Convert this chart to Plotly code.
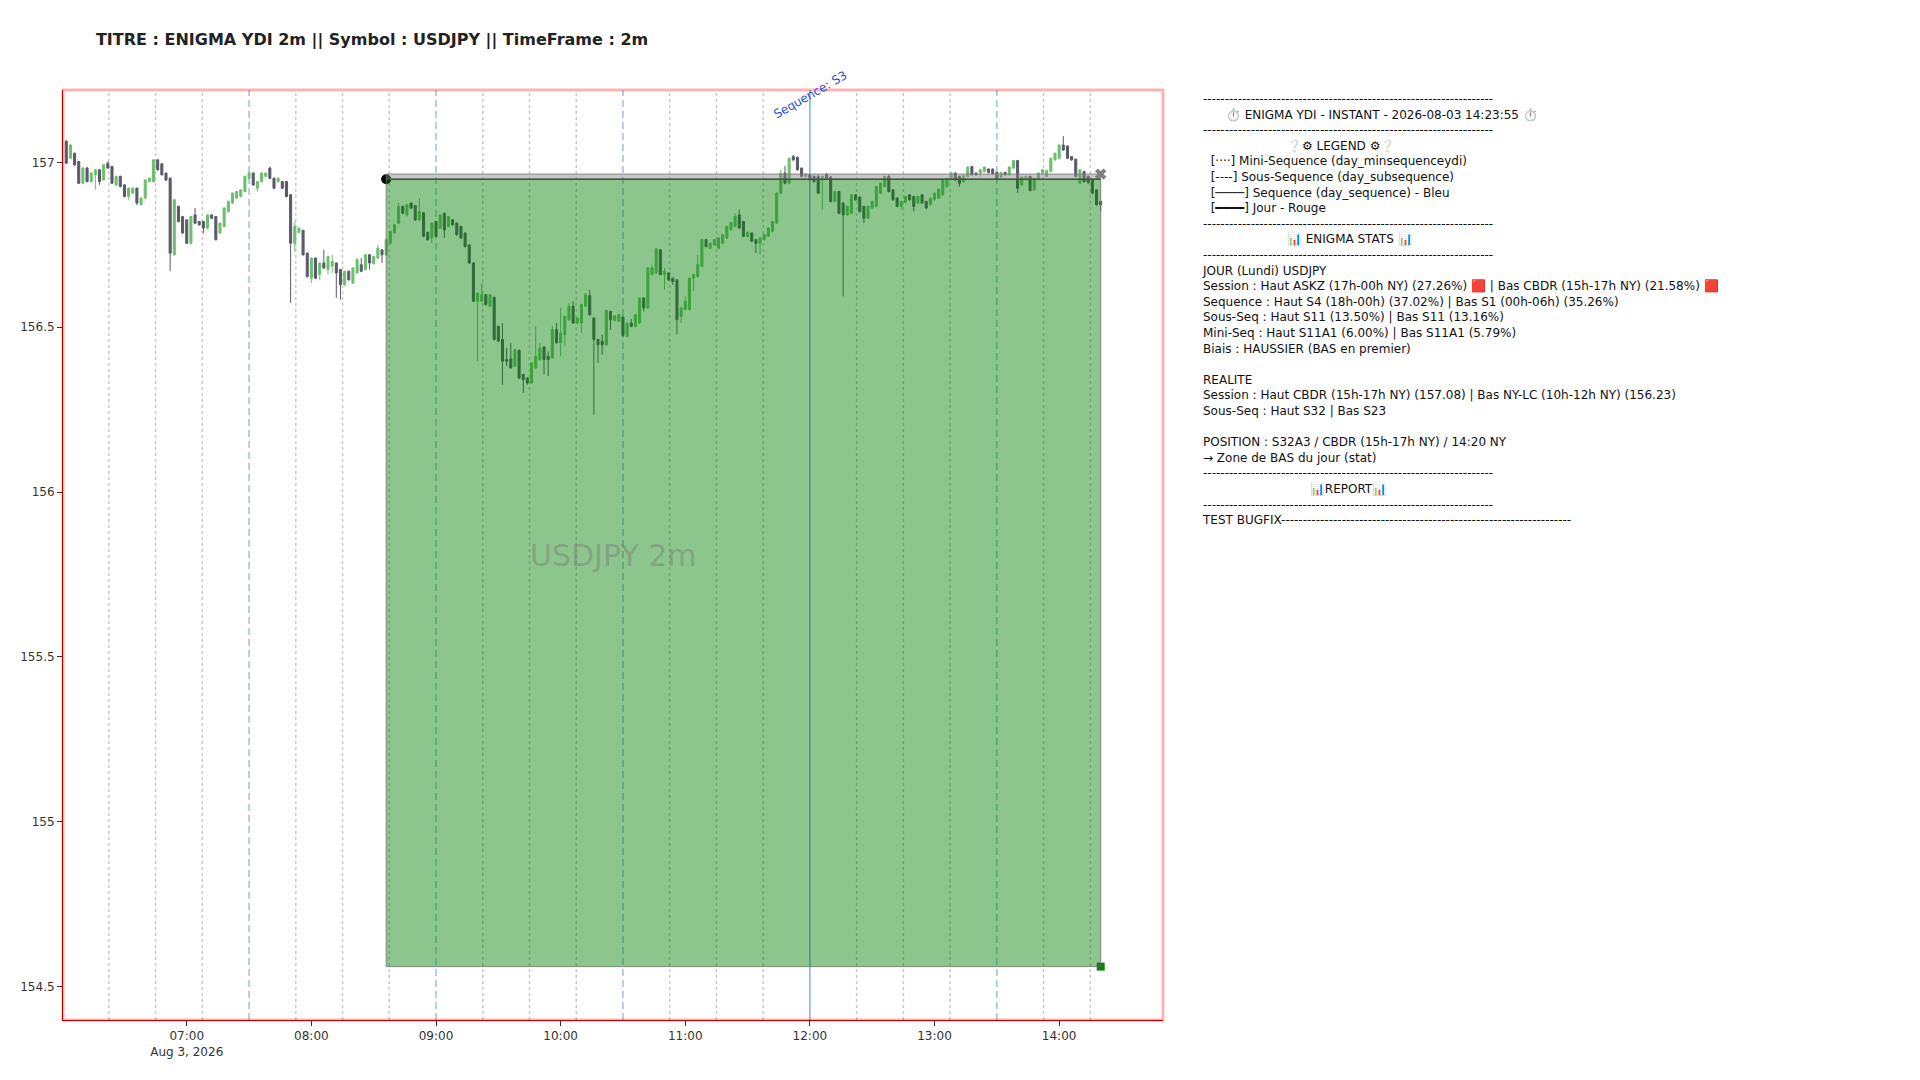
import pandas as pd
import plotly.graph_objects as go

# 2m candles, USDJPY, 06:02 -> 14:20
times = pd.date_range("2026-08-03 06:02", periods=250, freq="2min")

opens = [
    157.064, 157.013, 157.028, 157.003, 156.937, 156.983, 156.942, 156.963, 156.978, 156.947,
    156.998, 156.988, 156.932, 156.958, 156.932, 156.897, 156.907, 156.922, 156.872, 156.892,
    156.942, 156.942, 157.008, 156.996, 156.968, 156.952, 156.720, 156.867, 156.836, 156.826,
    156.755, 156.841, 156.821, 156.821, 156.801, 156.841, 156.836, 156.786, 156.806, 156.851,
    156.877, 156.892, 156.897, 156.912, 156.952, 156.968, 156.922, 156.942, 156.958, 156.983, 156.952,
    156.942, 156.942, 156.942, 156.902, 156.755, 156.788, 156.794, 156.725, 156.649,
    156.710, 156.660, 156.695, 156.675, 156.685, 156.695, 156.675, 156.629, 156.670, 156.634,
    156.665, 156.690, 156.675, 156.720, 156.693, 156.710, 156.735, 156.720, 156.755, 156.786,
    156.816, 156.867, 156.841, 156.877, 156.869, 156.826, 156.848, 156.788, 156.771, 156.821,
    156.801, 156.846, 156.806, 156.826, 156.816, 156.806, 156.786, 156.750, 156.695, 156.579,
    156.579, 156.599, 156.564,
    156.591, 156.503, 156.463, 156.402, 156.404, 156.382, 156.430,
    156.357, 156.346, 156.331, 156.377, 156.402, 156.440, 156.412, 156.407, 156.493, 156.453,
    156.478, 156.523, 156.564, 156.513, 156.513, 156.564, 156.596, 156.528, 156.463, 156.458,
    156.447, 156.548, 156.521, 156.518, 156.531, 156.473, 156.513, 156.503, 156.513, 156.589,
    156.559, 156.660, 156.665, 156.735, 156.660, 156.665, 156.649, 156.644, 156.533, 156.554,
    156.554, 156.649, 156.654, 156.685, 156.766,
    156.740, 156.750, 156.740, 156.755, 156.771,
    156.796, 156.806, 156.841, 156.821, 156.776, 156.786, 156.766, 156.755, 156.766, 156.776,
    156.791, 156.816, 156.907, 156.968, 156.937, 157.018, 157.016, 156.983, 156.958, 156.963,
    156.958, 156.958, 156.947, 156.963, 156.956, 156.882, 156.912, 156.877, 156.841, 156.846,
    156.902, 156.895, 156.867, 156.831, 156.862, 156.867, 156.907, 156.927, 156.958, 156.917,
    156.892, 156.867, 156.879, 156.902, 156.897,
    156.877, 156.902, 156.882, 156.872, 156.887,
    156.892, 156.902, 156.927, 156.949, 156.968, 156.958, 156.942, 156.958, 156.988, 156.968,
    156.968, 156.973, 156.980, 156.980, 156.970, 156.956, 156.970, 156.963, 156.983, 157.006,
    156.932, 156.949, 156.958, 156.917, 156.949, 156.968, 156.958, 156.973, 157.008, 157.013,
    157.053, 157.050, 157.018, 157.010, 156.938, 156.973, 156.958, 156.947, 156.917, 156.882,
]
highs = [
    157.068, 157.056, 157.030, 157.005, 156.985, 156.987, 156.970, 156.980, 156.980, 156.995,
    157.003, 156.990, 156.960, 156.960, 156.934, 156.924, 156.925, 156.924, 156.894, 156.949,
    156.955, 157.010, 157.010, 156.998, 156.970, 156.955, 156.889, 156.869, 156.838, 156.828,
    156.838, 156.862, 156.823, 156.823, 156.843, 156.843, 156.838, 156.818, 156.864, 156.884,
    156.909, 156.914, 156.919, 156.960, 156.970, 156.970, 156.944, 156.970, 156.970, 156.988, 156.955,
    156.955, 156.944, 156.944, 156.904, 156.821, 156.804, 156.796, 156.727, 156.712,
    156.712, 156.697, 156.735, 156.717, 156.720, 156.697, 156.677, 156.672, 156.672, 156.682,
    156.710, 156.710, 156.722, 156.722, 156.717, 156.750, 156.737, 156.768, 156.793, 156.813,
    156.877, 156.869, 156.874, 156.879, 156.871, 156.892, 156.850, 156.790, 156.818, 156.823,
    156.843, 156.848, 156.838, 156.828, 156.818, 156.808, 156.788, 156.752, 156.697, 156.606,
    156.634, 156.601, 156.601,
    156.593, 156.505, 156.513, 156.437, 156.453, 156.434, 156.432,
    156.359, 156.348, 156.394, 156.503, 156.453, 156.442, 156.427, 156.503, 156.513, 156.559,
    156.535, 156.574, 156.579, 156.530, 156.571, 156.604, 156.614, 156.530, 156.465, 156.478,
    156.553, 156.550, 156.537, 156.540, 156.533, 156.515, 156.525, 156.540, 156.591, 156.591,
    156.682, 156.690, 156.740, 156.737, 156.680, 156.667, 156.651, 156.646, 156.561, 156.594,
    156.651, 156.662, 156.720, 156.768, 156.768,
    156.757, 156.768, 156.773, 156.783, 156.808,
    156.820, 156.846, 156.857, 156.823, 156.790, 156.788, 156.768, 156.773, 156.783, 156.803,
    156.823, 156.909, 156.978, 156.990, 157.015, 157.023, 157.018, 156.985, 156.967, 156.965,
    156.960, 156.963, 156.960, 156.968, 156.958, 156.914, 156.914, 156.879, 156.869, 156.904,
    156.904, 156.897, 156.869, 156.869, 156.884, 156.929, 156.939, 156.960, 156.963, 156.919,
    156.894, 156.884, 156.899, 156.904, 156.899,
    156.899, 156.904, 156.884, 156.894, 156.909,
    156.921, 156.949, 156.954, 156.970, 156.970, 156.960, 156.962, 156.988, 156.990, 156.970,
    156.980, 156.988, 156.982, 156.982, 156.972, 156.972, 156.972, 156.988, 157.008, 157.008,
    156.958, 156.960, 156.960, 156.954, 156.970, 156.980, 156.978, 157.015, 157.030, 157.055,
    157.080, 157.052, 157.020, 157.012, 156.980, 156.975, 156.960, 156.949, 156.919, 156.884,
]
lows = [
    156.996, 157.010, 156.990, 156.935, 156.934, 156.940, 156.939, 156.917, 156.932, 156.945,
    156.981, 156.935, 156.929, 156.924, 156.894, 156.887, 156.904, 156.870, 156.869, 156.889,
    156.940, 156.939, 156.975, 156.960, 156.944, 156.670, 156.717, 156.818, 156.783, 156.752,
    156.752, 156.813, 156.808, 156.786, 156.798, 156.828, 156.763, 156.783, 156.803, 156.848,
    156.874, 156.889, 156.894, 156.909, 156.949, 156.929, 156.912, 156.939, 156.955, 156.949, 156.919,
    156.939, 156.919, 156.894, 156.574, 156.730, 156.785, 156.717, 156.651, 156.634,
    156.646, 156.644, 156.677, 156.660, 156.665, 156.589, 156.584, 156.626, 156.641, 156.631,
    156.662, 156.667, 156.672, 156.675, 156.690, 156.707, 156.695, 156.717, 156.752, 156.783,
    156.813, 156.843, 156.836, 156.859, 156.823, 156.823, 156.773, 156.763, 156.755, 156.773,
    156.798, 156.771, 156.803, 156.808, 156.778, 156.768, 156.742, 156.692, 156.576, 156.397,
    156.576, 156.566, 156.561,
    156.460, 156.455, 156.326, 156.382, 156.374, 156.379, 156.343,
    156.301, 156.326, 156.328, 156.374, 156.399, 156.357, 156.352, 156.404, 156.450, 156.412,
    156.442, 156.520, 156.510, 156.510, 156.483, 156.561, 156.535, 156.235, 156.392, 156.417,
    156.444, 156.491, 156.518, 156.515, 156.472, 156.470, 156.500, 156.500, 156.510, 156.548,
    156.556, 156.657, 156.662, 156.657, 156.614, 156.641, 156.629, 156.478, 156.513, 156.551,
    156.551, 156.609, 156.651, 156.682, 156.742,
    156.737, 156.747, 156.737, 156.752, 156.768,
    156.793, 156.803, 156.798, 156.773, 156.773, 156.758, 156.725, 156.720, 156.763, 156.773,
    156.788, 156.813, 156.904, 156.934, 156.934, 157.005, 156.975, 156.955, 156.955, 156.944,
    156.939, 156.904, 156.857, 156.949, 156.879, 156.879, 156.843, 156.594, 156.838, 156.843,
    156.884, 156.848, 156.816, 156.828, 156.859, 156.864, 156.904, 156.924, 156.909, 156.884,
    156.864, 156.857, 156.876, 156.884, 156.851,
    156.874, 156.874, 156.859, 156.869, 156.884,
    156.889, 156.899, 156.924, 156.946, 156.944, 156.927, 156.939, 156.955, 156.960, 156.960,
    156.958, 156.970, 156.967, 156.963, 156.949, 156.953, 156.960, 156.960, 156.980, 156.907,
    156.929, 156.946, 156.912, 156.914, 156.946, 156.965, 156.955, 156.970, 157.005, 157.010,
    157.035, 157.010, 157.005, 156.955, 156.935, 156.939, 156.936, 156.904, 156.869, 156.851,
]
closes = [
    156.998, 157.053, 156.993, 156.937, 156.983, 156.942, 156.968, 156.978, 156.942, 156.993,
    156.983, 156.937, 156.958, 156.927, 156.897, 156.922, 156.922, 156.877, 156.892, 156.947,
    156.952, 157.008, 156.978, 156.963, 156.947, 156.725, 156.887, 156.821, 156.786, 156.755,
    156.836, 156.816, 156.811, 156.801, 156.841, 156.831, 156.766, 156.816, 156.862, 156.882,
    156.907, 156.912, 156.917, 156.958, 156.968, 156.932, 156.942, 156.968, 156.968, 156.952, 156.922,
    156.952, 156.922, 156.897, 156.755, 156.806, 156.801, 156.720, 156.654, 156.710,
    156.649, 156.695, 156.680, 156.715, 156.700, 156.665, 156.629, 156.670, 156.644, 156.680,
    156.705, 156.670, 156.720, 156.695, 156.715, 156.740, 156.720, 156.766, 156.791, 156.811,
    156.867, 156.846, 156.872, 156.862, 156.826, 156.851, 156.776, 156.766, 156.816, 156.776,
    156.841, 156.796, 156.836, 156.811, 156.781, 156.771, 156.745, 156.695, 156.579, 156.604,
    156.599, 156.569, 156.599,
    156.463, 156.458, 156.397, 156.397, 156.377, 156.432, 156.346,
    156.341, 156.331, 156.392, 156.412, 156.437, 156.402, 156.402, 156.493, 156.453, 156.483,
    156.533, 156.564, 156.513, 156.528, 156.569, 156.599, 156.538, 156.463, 156.447, 156.447,
    156.551, 156.523, 156.535, 156.538, 156.475, 156.513, 156.503, 156.538, 156.589, 156.559,
    156.680, 156.680, 156.738, 156.660, 156.670, 156.644, 156.639, 156.523, 156.559, 156.579,
    156.649, 156.660, 156.690, 156.766, 156.745,
    156.755, 156.766, 156.771, 156.781, 156.806,
    156.818, 156.836, 156.801, 156.776, 156.788, 156.761, 156.755, 156.771, 156.781, 156.801,
    156.821, 156.907, 156.968, 156.937, 157.013, 157.008, 156.978, 156.958, 156.965, 156.947,
    156.942, 156.907, 156.958, 156.952, 156.882, 156.912, 156.846, 156.841, 156.867, 156.902,
    156.887, 156.851, 156.831, 156.867, 156.882, 156.927, 156.937, 156.958, 156.912, 156.887,
    156.867, 156.882, 156.897, 156.887, 156.867,
    156.897, 156.877, 156.862, 156.892, 156.907,
    156.919, 156.947, 156.952, 156.968, 156.947, 156.937, 156.960, 156.986, 156.963, 156.963,
    156.978, 156.986, 156.970, 156.966, 156.952, 156.970, 156.963, 156.986, 157.006, 156.922,
    156.956, 156.958, 156.915, 156.952, 156.968, 156.978, 156.976, 157.013, 157.028, 157.053,
    157.038, 157.013, 157.008, 156.958, 156.978, 156.942, 156.939, 156.907, 156.872, 156.872,
]

# ENIGMA time divisions (NY time)
mini_seq_times = ["06:22:30", "06:45", "07:07:30", "07:52:30", "08:15", "08:37:30",
                  "09:22:30", "09:45", "10:07:30", "10:52:30", "11:15", "11:37:30",
                  "12:22:30", "12:45", "13:07:30", "13:52:30", "14:15"]
sub_seq_times = ["07:30", "09:00", "10:30", "13:30"]
seq_times = ["12:00"]
seq_labels = ["Sequence: S3"]

# position tool
entry_time, exit_time = "08:36", "14:20"
entry_price = 156.949
stop_price = 156.965
target_price = 154.56

DAY = "2026-08-03 "
INC = "#6cbf6c"
DEC = "#595968"

fig = go.Figure()

fig.add_trace(go.Candlestick(
    x=times, open=opens, high=highs, low=lows, close=closes,
    increasing=dict(line=dict(color=INC, width=1), fillcolor=INC),
    decreasing=dict(line=dict(color=DEC, width=1), fillcolor=DEC),
    whiskerwidth=0, showlegend=False, hoverinfo="skip",
))

# vertical division lines
for t in mini_seq_times:
    fig.add_shape(type="line", x0=DAY + t, x1=DAY + t, yref="paper", y0=0, y1=1,
                  line=dict(color="#c8c8c8", width=1.5, dash="dot"), layer="below")
for t in sub_seq_times:
    fig.add_shape(type="line", x0=DAY + t, x1=DAY + t, yref="paper", y0=0, y1=1,
                  line=dict(color="rgba(31,119,180,0.45)", width=1.5, dash="7px,4px"), layer="below")
for t, lab in zip(seq_times, seq_labels):
    fig.add_shape(type="line", x0=DAY + t, x1=DAY + t, yref="paper", y0=0, y1=1,
                  line=dict(color="rgba(30,100,220,0.55)", width=1.5), layer="below")
    fig.add_annotation(x=DAY + t, y=0.995, yref="paper", text=lab, showarrow=False,
                       textangle=-30, xanchor="center", yanchor="middle",
                       font=dict(size=12, color="#1f4fd8"))

# profit zone + stop band
fig.add_shape(type="rect", x0=DAY + entry_time, x1=DAY + exit_time, y0=target_price, y1=entry_price,
              fillcolor="rgba(0,128,0,0.45)", line=dict(color="rgba(110,110,110,0.8)", width=1), layer="above")
fig.add_shape(type="rect", x0=DAY + entry_time, x1=DAY + exit_time, y0=entry_price, y1=stop_price,
              fillcolor="rgba(128,128,128,0.45)", line=dict(color="rgba(120,120,120,0.8)", width=1), layer="above")
fig.add_shape(type="line", x0=DAY + entry_time, x1=DAY + exit_time, y0=entry_price, y1=entry_price,
              line=dict(color="#4a4a4a", width=1.5), layer="above")

fig.add_trace(go.Scatter(x=[DAY + entry_time], y=[entry_price], mode="markers",
                         marker=dict(color="black", size=10), showlegend=False, hoverinfo="skip"))
fig.add_trace(go.Scatter(x=[DAY + exit_time], y=[stop_price], mode="markers",
                         marker=dict(color="#808080", size=10, symbol="x"), showlegend=False, hoverinfo="skip"))
fig.add_trace(go.Scatter(x=[DAY + exit_time], y=[target_price], mode="markers",
                         marker=dict(color="#0e800e", size=8, symbol="square"), showlegend=False, hoverinfo="skip"))

# frame
fig.add_shape(type="rect", xref="paper", yref="paper", x0=0, x1=1, y0=0, y1=1,
              line=dict(color="rgba(255,0,0,0.3)", width=3), layer="above")

# watermark
fig.add_annotation(x=0.5, y=0.5, xref="paper", yref="paper", text="USDJPY 2m", showarrow=False,
                   font=dict(size=30, color="rgba(120,120,120,0.45)"))

# info panel
NB = "\u00a0"
SEP = "-" * 67
info_lines = [
    SEP,
    NB * 6 + "⏱️ ENIGMA YDI - INSTANT - 2026-08-03 14:23:55 ⏱️",
    SEP,
    NB * 22 + "❔⚙ LEGEND ⚙❔",
    NB * 2 + "[····] Mini-Sequence (day_minsequenceydi)",
    NB * 2 + "[----] Sous-Sequence (day_subsequence)",
    NB * 2 + "[────] Sequence (day_sequence) - Bleu",
    NB * 2 + "[━━━━] Jour - Rouge",
    SEP,
    NB * 22 + "📊 ENIGMA STATS 📊",
    SEP,
    "JOUR (Lundi) USDJPY",
    "Session : Haut ASKZ (17h-00h NY) (27.26%) 🟥 | Bas CBDR (15h-17h NY) (21.58%) 🟥",
    "Sequence : Haut S4 (18h-00h) (37.02%) | Bas S1 (00h-06h) (35.26%)",
    "Sous-Seq : Haut S11 (13.50%) | Bas S11 (13.16%)",
    "Mini-Seq : Haut S11A1 (6.00%) | Bas S11A1 (5.79%)",
    "Biais : HAUSSIER (BAS en premier)",
    NB,
    "REALITE",
    "Session : Haut CBDR (15h-17h NY) (157.08) | Bas NY-LC (10h-12h NY) (156.23)",
    "Sous-Seq : Haut S32 | Bas S23",
    NB,
    "POSITION : S32A3 / CBDR (15h-17h NY) / 14:20 NY",
    "→ Zone de BAS du jour (stat)",
    SEP,
    NB * 28 + "📊REPORT📊",
    SEP,
    "TEST BUGFIX" + SEP,
]
fig.add_annotation(x=1.034, y=1.0, xref="paper", yref="paper", xanchor="left", yanchor="top",
                   align="left", showarrow=False, text="<br>".join(info_lines),
                   font=dict(size=12, color="#111111"))

# page body has an 8px margin, so the figure is sized to fit inside the window
fig.update_layout(
    width=1904, height=1064,
    margin=dict(l=51.5, r=748.5, t=82, b=52),
    paper_bgcolor="white", plot_bgcolor="white",
    font=dict(family="DejaVu Sans", size=12, color="#333333"),
    title=dict(text="<b>TITRE : ENIGMA YDI 2m || Symbol : USDJPY || TimeFrame : 2m</b>",
               x=0.0462, xanchor="left", y=0.9709, yanchor="middle",
               font=dict(size=16, color="#222222")),
    showlegend=False,
)
fig.update_xaxes(range=[DAY + "06:00:25", DAY + "14:50"], dtick=3600000, showgrid=False,
                 rangeslider_visible=False, showline=True, linecolor="#a00000", linewidth=1,
                 ticks="outside", ticklen=5, tickcolor="#333333", zeroline=False)
fig.update_yaxes(range=[154.398, 157.220], dtick=0.5, showgrid=False, showline=True,
                 linecolor="#a00000", linewidth=1, ticks="outside", ticklen=5,
                 tickcolor="#333333", zeroline=False)

fig.write_html("out.html")
